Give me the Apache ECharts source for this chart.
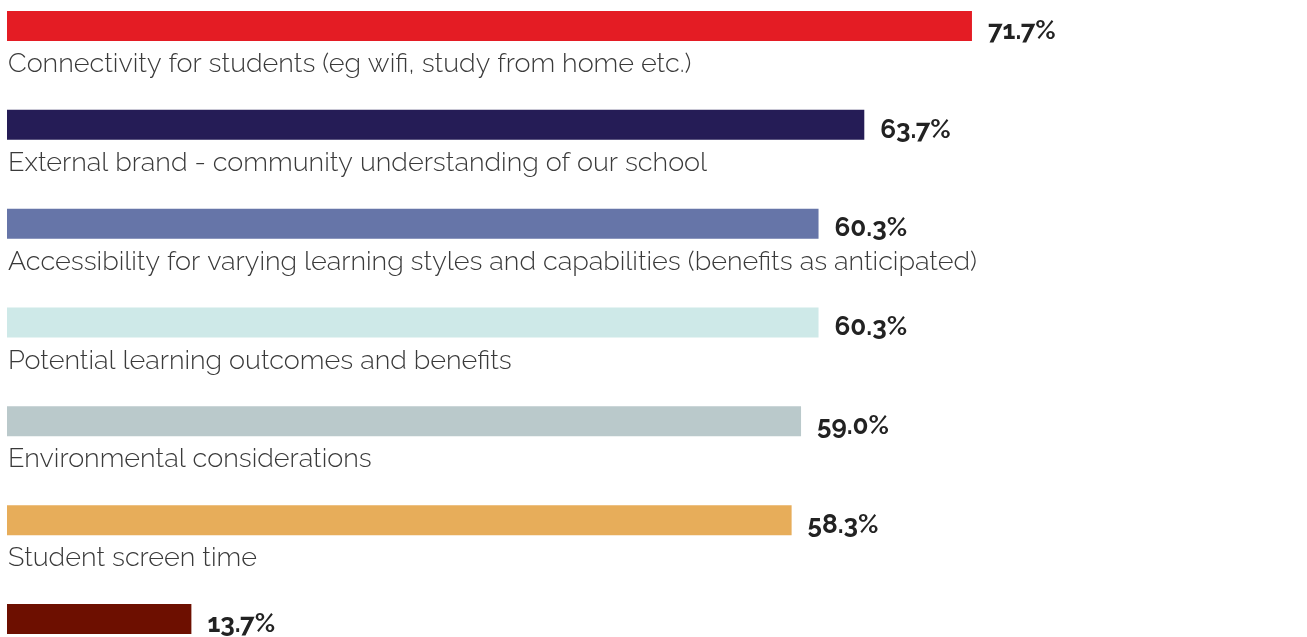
<!DOCTYPE html>
<html>
<head>
<meta charset="utf-8">
<script src="https://cdn.jsdelivr.net/npm/echarts@6/dist/echarts.min.js"></script>
<style>
  html, body { margin: 0; padding: 0; background: #ffffff; }
  #chart { width: 1307px; height: 637px; }
</style>
</head>
<body>
<div id="chart"></div>
<script>
// Survey priorities, percentages of respondents
const categories = [
  'Connectivity for students (eg wifi, study from home etc.)',
  'External brand - community understanding of our school',
  'Accessibility for varying learning styles and capabilities (benefits as anticipated)',
  'Potential learning outcomes and benefits',
  'Environmental considerations',
  'Student screen time',
  'Other'
];
const values = [71.7, 63.7, 60.3, 60.3, 59.0, 58.3, 13.7];
const barColors = ['#E41C24', '#251C56', '#6675A8', '#CEE9E8', '#BAC9CB', '#E7AD5A', '#6D0F00'];

const chart = echarts.init(document.getElementById('chart'));

const textFont = "'Raleway', 'Open Sans', 'Lato', sans-serif";

chart.setOption({
  animation: false,
  grid: { left: 7, right: 8, top: 26, bottom: 18 },
  xAxis: {
    type: 'value', min: 0, max: 96,
    show: false
  },
  yAxis: {
    type: 'category', data: categories, inverse: true,
    boundaryGap: false,
    show: false
  },
  series: [
    {
      type: 'bar',
      barWidth: 30,
      data: values.map((v, i) => ({ value: v, itemStyle: { color: barColors[i] } })),
      label: {
        show: true,
        position: 'right',
        distance: 16,
        offset: [0, 5],
        formatter: p => p.value.toFixed(1) + '%',
        fontFamily: textFont,
        fontWeight: 'bold',
        fontSize: 26,
        color: '#222222'
      }
    },
    {
      type: 'bar',
      barWidth: 30,
      barGap: '-100%',
      silent: true,
      data: values,
      itemStyle: { color: 'rgba(0,0,0,0)' },
      label: {
        show: true,
        position: [1, 53],
        verticalAlign: 'middle',
        align: 'left',
        formatter: p => p.name,
        fontFamily: textFont,
        fontWeight: 300,
        fontSize: 27,
        color: '#3a3a3a'
      }
    }
  ]
});
</script>
</body>
</html>
